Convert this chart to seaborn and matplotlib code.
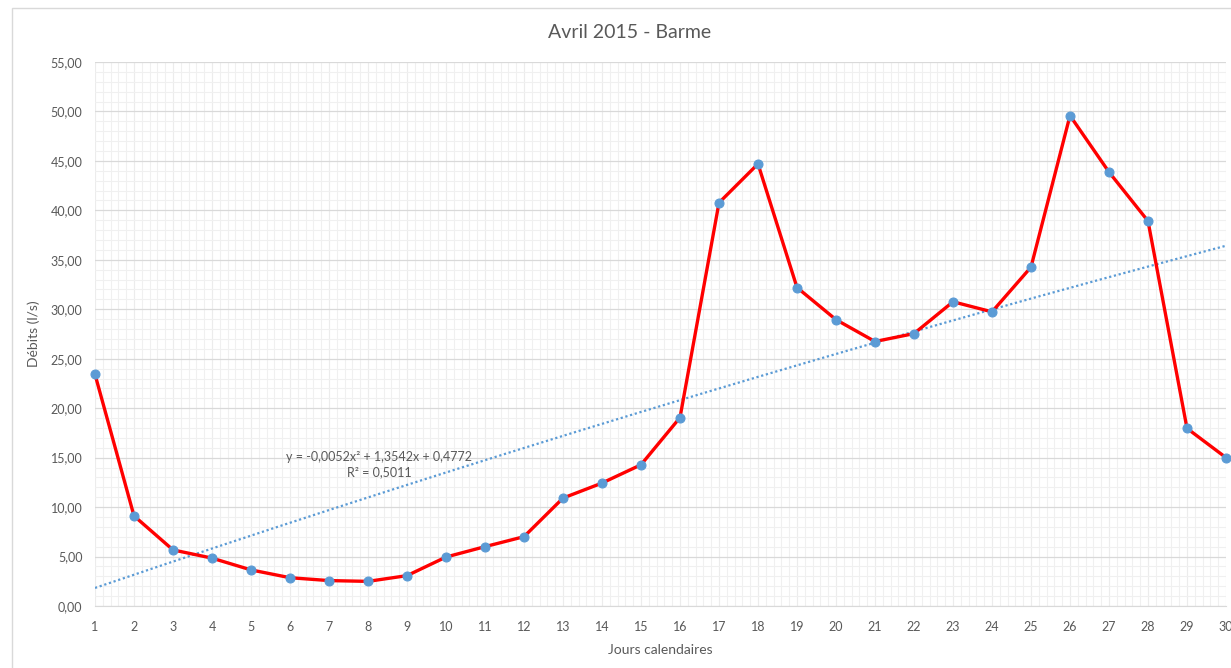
import numpy as np
import pandas as pd
import seaborn as sns
import matplotlib.pyplot as plt
from matplotlib.patches import Rectangle
from matplotlib.ticker import MultipleLocator, FuncFormatter

# data
days = list(range(1, 31))
debits = [23.42, 9.11, 5.67, 4.84, 3.65, 2.86, 2.57, 2.49, 3.07, 4.95,
          6.00, 7.01, 10.91, 12.43, 14.28, 19.05, 40.77, 44.70, 32.20, 28.95,
          26.74, 27.54, 30.76, 29.74, 34.26, 49.58, 43.87, 38.92, 17.96, 15.00]
# polynomial trendline coefficients (x², x, 1) as shown on the chart
trend_coefs = [-0.0052, 1.3542, 0.4772]
trend_r2 = 0.5011

title = "Avril 2015 - Barme"
xlabel = "Jours calendaires"
ylabel = "Débits (l/s)"

sns.set_style("white")
plt.rcParams["font.family"] = ["Lato", "DejaVu Sans"]

gray_txt = "#595959"
blue = "#5B9BD5"


def fr(v):
    return f"{v:.4f}".replace(".", ",")


fig = plt.figure(figsize=(12.31, 6.68), dpi=100)
ax = fig.add_axes([95 / 1231, 1 - 606 / 668, (1226 - 95) / 1231, (606 - 62) / 668])

df = pd.DataFrame({"jour": days, "debit": debits})
x_fit = np.linspace(days[0], days[-1], 300)
trend = pd.DataFrame({"jour": x_fit, "debit": np.polyval(trend_coefs, x_fit)})

sns.lineplot(data=trend, x="jour", y="debit", ax=ax, color=blue,
             linestyle=(0, (1, 1.2)), linewidth=1.6, zorder=2)
sns.lineplot(data=df, x="jour", y="debit", ax=ax, color="#FF0000", linewidth=2.4,
             marker="o", markersize=6.5, markerfacecolor=blue,
             markeredgecolor=blue, clip_on=False, zorder=3)

ax.set_xlim(1, 30)
ax.set_ylim(0, 55)
ax.xaxis.set_major_locator(MultipleLocator(1))
ax.xaxis.set_minor_locator(MultipleLocator(0.2))
ax.yaxis.set_major_locator(MultipleLocator(5))
ax.yaxis.set_minor_locator(MultipleLocator(1))
ax.yaxis.set_major_formatter(FuncFormatter(lambda v, p: f"{v:.2f}".replace(".", ",")))
ax.grid(which="minor", color="#f0f0f0", linewidth=0.8)
ax.grid(which="major", axis="x", color="#ececec", linewidth=0.8)
ax.grid(which="major", axis="y", color="#d9d9d9", linewidth=0.9)
ax.set_axisbelow(True)
for s in ["top", "right", "left"]:
    ax.spines[s].set_visible(False)
ax.spines["bottom"].set_color("#d9d9d9")
ax.tick_params(which="both", length=0, colors=gray_txt, labelsize=9)
ax.tick_params(axis="x", pad=11)
ax.tick_params(axis="y", pad=9)

ax.set_xlabel(xlabel, fontsize=10, color=gray_txt, labelpad=8)
ax.set_ylabel(ylabel, fontsize=10, color=gray_txt, labelpad=8)
fig.text(630 / 1231, 1 - 33 / 668, title, ha="center", va="center",
         fontsize=14, color=gray_txt)

a, b, c = trend_coefs
eq = f"y = {fr(a)}x² + {fr(b)}x + {fr(c)}"
ax.text(8.28, 15.1, eq, ha="center", va="center", fontsize=9, color=gray_txt)
ax.text(8.28, 13.5, f"R² = {fr(trend_r2)}", ha="center", va="center",
        fontsize=9, color=gray_txt)

fig.patches.append(Rectangle((12 / 1231, -0.1), 1.2, 1.1 - 8 / 668,
                             transform=fig.transFigure, fill=False,
                             edgecolor="#d9d9d9", linewidth=1))

fig.savefig("out.png", dpi=100)
